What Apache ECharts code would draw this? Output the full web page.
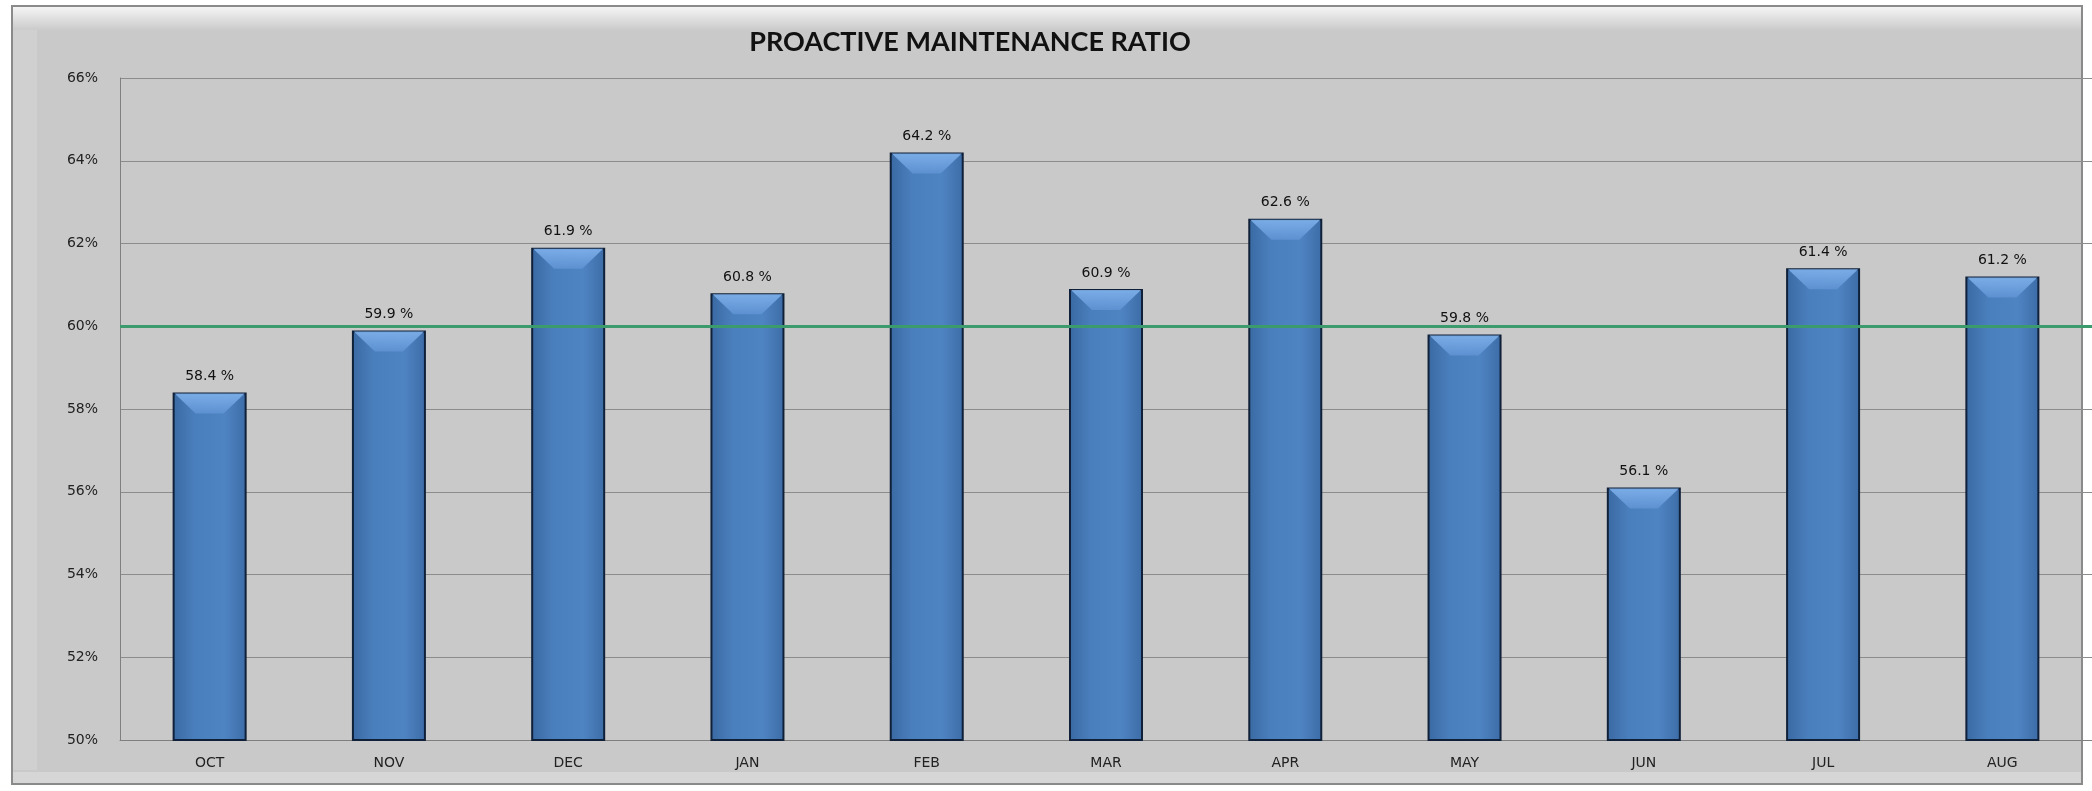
<!DOCTYPE html>
<html>
<head>
<meta charset="utf-8">
<script src="https://cdn.jsdelivr.net/npm/echarts@6/dist/echarts.min.js"></script>
<style>
  html, body { margin: 0; padding: 0; background: #ffffff; }
  #chart { width: 2092px; height: 791px; }
</style>
</head>
<body>
<div id="chart"></div>
<script>
// months and ratio values (%)
const months = ['OCT', 'NOV', 'DEC', 'JAN', 'FEB', 'MAR', 'APR', 'MAY', 'JUN', 'JUL', 'AUG'];
const ratio = [58.4, 59.9, 61.9, 60.8, 64.2, 60.9, 62.6, 59.8, 56.1, 61.4, 61.2];
const target = 60;

const myChart = echarts.init(document.getElementById('chart'));

const option = {
  backgroundColor: '#ffffff',
  animation: false,
  // chart frame with bevel
  graphic: [
    { type: 'rect', z: -10, shape: { x: 12, y: 6, width: 2070, height: 778 },
      style: { fill: '#c9c9c9', stroke: '#8a8a8a', lineWidth: 2 } },
    { type: 'rect', z: -9, shape: { x: 13, y: 7, width: 2068, height: 24 },
      style: { fill: new echarts.graphic.LinearGradient(0, 0, 0, 1, [
        { offset: 0, color: '#f4f4f4' }, { offset: 1, color: '#c9c9c9' }]) } },
    { type: 'rect', z: -9, shape: { x: 13, y: 30, width: 24, height: 740 },
      style: { fill: '#d0d0d0' } },
    { type: 'rect', z: -9, shape: { x: 13, y: 772, width: 2068, height: 11 },
      style: { fill: '#d6d6d6' } }
  ],
  title: {
    text: 'PROACTIVE MAINTENANCE RATIO',
    left: 965,
    top: 24,
    textAlign: 'center',
    textStyle: { fontFamily: 'Lato', fontWeight: 'bold', fontSize: 27, color: '#111' }
  },
  grid: { left: 120, top: 78, width: 1980, height: 662 },
  xAxis: {
    type: 'category',
    data: months,
    axisLine: { lineStyle: { color: '#7f7f7f', width: 1 } },
    axisTick: { show: false },
    axisLabel: { fontFamily: 'DejaVu Sans', fontSize: 14, color: '#222', margin: 16 }
  },
  yAxis: {
    type: 'value',
    min: 50,
    max: 66,
    interval: 2,
    axisLine: { show: true, lineStyle: { color: '#7f7f7f', width: 1 } },
    axisTick: { show: false },
    splitLine: { lineStyle: { color: '#8c8c8c', width: 1 } },
    axisLabel: { fontFamily: 'DejaVu Sans', fontSize: 14, color: '#222', margin: 22,
      formatter: v => v + '%' }
  },
  series: [
    {
      name: 'Ratio',
      type: 'bar',
      data: ratio,
      barWidth: 74,
      barGap: '-100%',
      itemStyle: {
        borderColor: '#0f2038',
        borderWidth: 2,
        color: new echarts.graphic.LinearGradient(0, 0, 1, 0, [
          { offset: 0, color: '#3a69a2' },
          { offset: 0.3, color: '#4a7fbd' },
          { offset: 0.7, color: '#4f84c3' },
          { offset: 1, color: '#3c6ca6' }
        ])
      },
      label: {
        show: true,
        position: 'top',
        distance: 9,
        fontFamily: 'DejaVu Sans',
        fontSize: 14,
        color: '#111',
        formatter: p => p.value.toFixed(1) + ' %'
      },
      markLine: {
        silent: true,
        symbol: 'none',
        label: { show: false },
        lineStyle: { color: '#3b9b6c', width: 3, type: 'solid' },
        data: [{ yAxis: target }]
      }
    },
    {
      name: 'Bevel',
      type: 'pictorialBar',
      data: ratio,
      barWidth: 70,
      barGap: '-100%',
      symbol: 'path://M0,0 L20,0 L14,6 L6,6 Z',
      symbolSize: [70, 20],
      symbolPosition: 'end',
      symbolOffset: [0, 1],
      z: 3,
      itemStyle: {
        color: new echarts.graphic.LinearGradient(0, 0, 0, 1, [
          { offset: 0, color: '#80b2ec' },
          { offset: 1, color: '#5e92d2' }
        ]),
        opacity: 0.9
      },
      silent: true
    }
  ]
};

myChart.setOption(option);
</script>
</body>
</html>
